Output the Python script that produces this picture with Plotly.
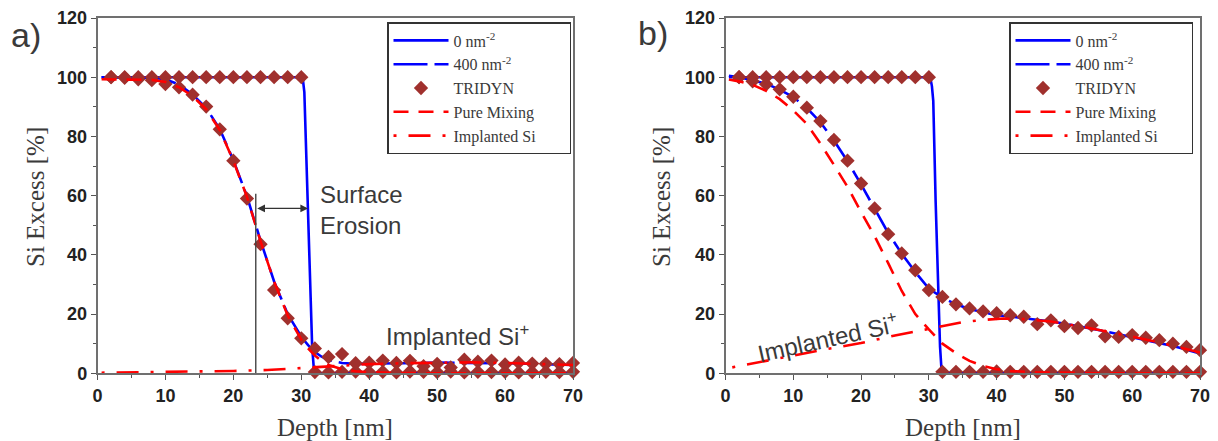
import plotly.graph_objects as go

# ---------------- panel a ----------------
A_STEP_X = [0.6, 30.2, 30.45, 30.8, 31.25, 31.6, 31.9, 70]
A_STEP_Y = [100, 100, 95, 71, 38, 9, 0, 0]

A_400_X = [0.6, 4, 8, 10, 12, 14, 16, 18, 20, 22, 24, 26, 28, 30, 31, 32, 33, 34,
           35, 36, 38, 40, 45, 50, 55, 60, 65, 70]
A_400_Y = [100, 100, 99.8, 99.3, 97.5, 94.2, 89.6, 82.5, 72.0, 59.8, 44.8, 31.0,
           20.0, 12.4, 9.5, 7.2, 5.6, 4.5, 3.9, 3.5, 3.2, 3.2, 3.4, 3.6, 3.6, 3.4,
           3.1, 2.8]

TRI_X = [2, 4, 6, 8, 10, 12, 14, 16, 18, 20, 22, 24, 26, 28, 30, 32, 34, 36, 38,
         40, 42, 44, 46, 48, 50, 52, 54, 56, 58, 60, 62, 64, 66, 68, 70]
A_TRI_0 = [100, 100, 100, 100, 100, 100, 100, 100, 100, 100, 100, 100, 100, 100,
           100, 0.4, 0.3, 0.5, 0.6, 0.4, 0.5, 0.3, 0.6, 0.5, 0.4, 0.6, 0.3, 0.5,
           0.4, 0.5, 0.3, 0.4, 0.5, 0.4, 0.5]
A_TRI_400 = [100, 99.8, 99.3, 99.0, 97.7, 96.6, 94.1, 90.1, 82.4, 71.8, 59.0, 43.6,
             28.1, 18.6, 11.8, 8.4, 5.5, 6.5, 3.4, 3.6, 4.3, 3.5, 4.2, 2.4, 3.2,
             2.0, 4.6, 3.9, 4.3, 3.0, 3.6, 3.3, 3.2, 3.1, 3.5]

A_MIX_X = [0.6, 5, 8, 10, 12, 14, 16, 18, 20, 22, 24, 26, 28, 30, 31, 32, 33, 34,
           36, 38, 40, 45, 50, 70]
A_MIX_Y = [99.3, 99.3, 99.1, 98.4, 96.6, 93.6, 89.2, 82.2, 71.8, 59.6, 44.6, 31.0,
           19.5, 11.4, 8.4, 6.0, 4.1, 2.8, 1.4, 0.7, 0.35, 0.1, 0, 0]

A_IMP_X = [0.6, 5, 10, 15, 20, 25, 28, 30, 32, 35, 40, 45, 50, 55, 60, 65, 70]
A_IMP_Y = [0.2, 0.3, 0.4, 0.5, 0.8, 1.1, 1.5, 1.8, 2.1, 2.6, 3.1, 3.4, 3.6, 3.7,
           3.5, 3.2, 2.8]

# ---------------- panel b ----------------
B_STEP_X = [0.5, 30.2, 30.45, 30.65, 31.0, 31.4, 31.65, 31.9, 70]
B_STEP_Y = [100, 100, 97, 92, 58, 25, 9, 0, 0]

B_400_X = [0.5, 2, 4, 6, 8, 10, 12, 14, 16, 18, 20, 22, 24, 26, 28, 30, 32, 34, 36,
           38, 40, 42, 44, 46, 48, 50, 52, 54, 56, 58, 60, 62, 64, 66, 68, 70]
B_400_Y = [100.5, 100, 99, 97.8, 95.8, 93.3, 89.6, 84.8, 78.6, 71.6, 63.8, 55.6,
           47.4, 40.4, 34.2, 28.6, 25.6, 23.3, 21.7, 20.6, 19.6, 19.2, 18.7, 18.1,
           17.5, 16.8, 16.0, 15.1, 14.2, 13.2, 12.2, 11.2, 10.3, 9.2, 8.0, 6.7]

B_TRI_0 = [100, 100, 100, 100, 100, 100, 100, 100, 100, 100, 100, 100, 100, 100,
           100, 0.5, 0.5, 0.5, 0.5, 0.6, 0.5, 0.5, 0.5, 0.5, 0.5, 0.5, 0.5, 0.5,
           0.5, 0.5, 0.5, 0.5, 0.5, 0.5, 0.5]
B_TRI_400 = [100, 98.6, 97.6, 95.9, 93.4, 89.7, 85.2, 78.8, 71.8, 64.1, 55.7, 47.0,
             40.5, 34.8, 28.1, 25.8, 23.3, 21.9, 20.9, 20.3, 19.6, 19.1, 16.6, 17.9,
             15.9, 15.3, 16.2, 12.5, 12.3, 12.9, 12.0, 11.2, 10.0, 8.9, 7.8]

B_MIX_X = [0.5, 2, 4, 6, 8, 10, 12, 14, 16, 18, 20, 22, 24, 26, 28, 30, 32, 34, 36,
           38, 40, 42, 45, 50, 55, 70]
B_MIX_Y = [99.2, 98.6, 97.4, 95.4, 92.6, 88.8, 84.2, 77.6, 70.4, 63.0, 54.5, 46.3,
           37.2, 27.8, 20.0, 14.8, 10.0, 6.8, 4.2, 2.5, 1.4, 0.8, 0.4, 0.15, 0, 0]

B_IMP_X = [1, 5, 10, 15, 20, 25, 30, 35, 38, 41, 44, 48, 52, 56, 60, 64, 68, 70]
B_IMP_Y = [2.0, 3.8, 5.9, 8.2, 10.2, 12.8, 15.0, 17.3, 18.0, 18.5, 18.3, 17.5, 16.0,
           14.3, 12.4, 10.4, 8.2, 7.0]

# legend labels (the last one is padded with no-break spaces to widen the box)
NAMES = ["0 nm<sup>-2</sup>", "400 nm<sup>-2</sup>", "TRIDYN", "Pure Mixing",
         "Implanted Si" + "\u00a0" * 7]
X_TICKS = [0, 10, 20, 30, 40, 50, 60, 70]
Y_TICKS = [0, 20, 40, 60, 80, 100, 120]

BLUE = "#0000ff"
RED = "#ff0000"
BROWN = "#a0302d"
TEXT = "#3a3a3a"

fig = go.Figure()


def add_panel(xa, ya, leg, step, p400, tri0, tri400, mix, imp):
    common = dict(xaxis=xa, yaxis=ya, legend=leg, hoverinfo="skip")
    fig.add_trace(go.Scatter(x=step[0], y=step[1], mode="lines", name=NAMES[0],
                             line=dict(color=BLUE, width=2.6), **common))
    fig.add_trace(go.Scatter(x=p400[0], y=p400[1], mode="lines", name=NAMES[1],
                             line=dict(color=BLUE, width=2.6, dash="34px,7px"),
                             **common))
    fig.add_trace(go.Scatter(x=TRI_X, y=tri0, mode="markers", name=NAMES[2],
                             marker=dict(symbol="diamond", size=11, color=BROWN),
                             cliponaxis=False, **common))
    fig.add_trace(go.Scatter(x=TRI_X, y=tri400, mode="markers", name=NAMES[2],
                             showlegend=False,
                             marker=dict(symbol="diamond", size=11, color=BROWN),
                             cliponaxis=False, **common))
    fig.add_trace(go.Scatter(x=mix[0], y=mix[1], mode="lines", name=NAMES[3],
                             line=dict(color=RED, width=2.6, dash="15px,10px"),
                             **common))
    fig.add_trace(go.Scatter(x=imp[0], y=imp[1], mode="lines", name=NAMES[4],
                             line=dict(color=RED, width=2.6,
                                       dash="3px,12px,22px,12px"),
                             **common))


add_panel("x", "y", "legend", (A_STEP_X, A_STEP_Y), (A_400_X, A_400_Y),
          A_TRI_0, A_TRI_400, (A_MIX_X, A_MIX_Y), (A_IMP_X, A_IMP_Y))
add_panel("x2", "y2", "legend2", (B_STEP_X, B_STEP_Y), (B_400_X, B_400_Y),
          B_TRI_0, B_TRI_400, (B_MIX_X, B_MIX_Y), (B_IMP_X, B_IMP_Y))

W, H = 1218, 441
Y_DOM = [1 - 373.3 / H, 1 - 18 / H]
XA_DOM = [97.5 / W, 573 / W]
XB_DOM = [725.5 / W, 1200 / W]

tickfont = dict(family="Liberation Sans", size=18, color="#222", weight=700)
axis_common = dict(showline=True, mirror=True, linecolor="#707070", linewidth=1.5,
                   showgrid=False, zeroline=False, ticks="outside", ticklen=5,
                   tickwidth=1.2, tickcolor="#555", tickfont=tickfont,
                   automargin=False)
xcfg = dict(range=[0, 70], tickvals=X_TICKS,
            minor=dict(dtick=5, tick0=0, ticks="outside", ticklen=3,
                       tickcolor="#555"), **axis_common)
ycfg = dict(range=[0, 120], tickvals=Y_TICKS,
            minor=dict(dtick=10, tick0=0, ticks="outside", ticklen=3,
                       tickcolor="#555"), **axis_common)

legend_common = dict(xanchor="left", yanchor="top", bgcolor="white",
                     bordercolor="#333", borderwidth=1.5, itemwidth=55,
                     tracegroupgap=0,
                     font=dict(family="Liberation Serif", size=16, color=TEXT))

fig.update_layout(
    width=W, height=H, autosize=False,
    margin=dict(l=0, r=0, t=0, b=0, pad=0, autoexpand=False),
    paper_bgcolor="white", plot_bgcolor="white",
    xaxis=dict(domain=XA_DOM, anchor="y", **xcfg),
    yaxis=dict(domain=Y_DOM, anchor="x", **ycfg),
    xaxis2=dict(domain=XB_DOM, anchor="y2", **xcfg),
    yaxis2=dict(domain=Y_DOM, anchor="x2", **ycfg),
    legend=dict(x=387 / W, y=1 - 22 / H, **legend_common),
    legend2=dict(x=1009 / W, y=1 - 22 / H, **legend_common),
)

serif = dict(family="Liberation Serif", size=25, color=TEXT)
sans = dict(family="Liberation Sans", size=24, color=TEXT)
centered = dict(xanchor="center", yanchor="middle", showarrow=False)

annotations = [
    # panel letters
    dict(text="a)", x=26 / W, y=1 - 35 / H, xref="paper", yref="paper",
         font=dict(family="Liberation Sans", size=34, color=TEXT), **centered),
    dict(text="b)", x=653 / W, y=1 - 33 / H, xref="paper", yref="paper",
         font=dict(family="Liberation Sans", size=34, color=TEXT), **centered),
    # axis titles
    dict(text="Depth [nm]", x=sum(XA_DOM) / 2, y=1 - 427 / H, xref="paper",
         yref="paper", font=serif, **centered),
    dict(text="Depth [nm]", x=sum(XB_DOM) / 2, y=1 - 427 / H, xref="paper",
         yref="paper", font=serif, **centered),
    dict(text="Si Excess [%]", x=35 / W, y=1 - 197 / H, xref="paper",
         yref="paper", textangle=-90, font=serif, **centered),
    dict(text="Si Excess [%]", x=661 / W, y=1 - 197 / H, xref="paper",
         yref="paper", textangle=-90, font=serif, **centered),
    # panel a labels
    dict(text="Surface<br>Erosion", x=32.5, y=55.2, xref="x", yref="y",
         xanchor="left", yanchor="middle", align="left", showarrow=False,
         font=sans),
    dict(text="Implanted Si<sup>+</sup>", x=42.2, y=13.0, xref="x", yref="y",
         xanchor="left", yanchor="middle", showarrow=False, font=sans),
    # erosion arrow
    dict(x=31.0, y=55.7, ax=23.3, ay=55.7, xref="x", yref="y", axref="x",
         ayref="y", text="", showarrow=True, arrowhead=2, arrowside="end+start",
         arrowsize=1.1, arrowwidth=1.4, arrowcolor="#333", standoff=0,
         startstandoff=0),
    # panel b label
    dict(text="Implanted Si<sup>+</sup>", x=15.1, y=12.4, xref="x2", yref="y2",
         textangle=-12.5, font=sans, **centered),
]
fig.update_layout(annotations=annotations)

fig.add_shape(type="line", xref="x", yref="y", x0=23.3, x1=23.3, y0=0, y1=60.6,
              line=dict(color="#444", width=1.4))

fig.write_html("out.html", config={"displayModeBar": False, "responsive": False})
